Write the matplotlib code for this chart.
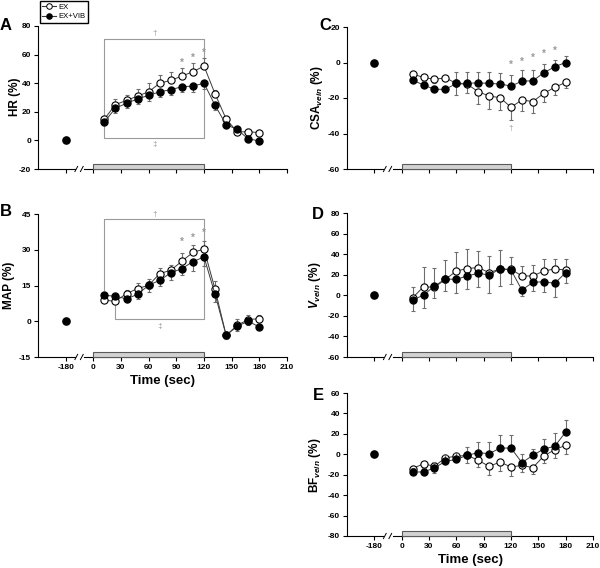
import matplotlib
matplotlib.use('Agg')
import matplotlib.pyplot as plt
from matplotlib.patches import Rectangle
from matplotlib.lines import Line2D

plt.rcParams['font.family'] = ['Liberation Sans', 'DejaVu Sans']
plt.rcParams['mathtext.fontset'] = 'custom'
plt.rcParams['mathtext.rm'] = 'Liberation Sans:bold'
plt.rcParams['mathtext.it'] = 'Liberation Sans:italic:bold'
plt.rcParams['mathtext.bf'] = 'Liberation Sans:bold'

# ---------------- data ----------------
time_sec = [12, 24, 36, 48, 60, 72, 84, 96, 108, 120, 132, 144, 156, 168, 180]
baseline_time = -180
baseline_value = 0
xtick_labels = ['-180', '0', '30', '60', '90', '120', '150', '180', '210']

hr_ex = [15, 25, 28, 31, 34, 40, 42, 45, 48, 52, 32.5, 15, 6, 6, 5.5]
hr_ex_se = [2, 4, 3.5, 5, 6, 6, 6, 5.5, 6, 5.5, 3, 2, 2, 2, 2]
hr_vib = [13, 22.5, 26, 29, 31.5, 34, 35.5, 37.5, 38, 40, 24.5, 11, 7.7, 1, -0.3]
hr_vib_se = [2, 3.5, 3, 3.5, 4, 4, 4, 4, 4, 4, 3, 2, 2, 2, 2]

map_ex = [8.8, 8.4, 11.6, 13.7, 15.1, 20, 21.4, 25.2, 28.9, 30.3, 13.4, -5.9, -1.7, 0.7, 1.1]
map_ex_se = [1, 1, 1.5, 2.5, 2.5, 2.5, 2.3, 3.6, 3.3, 3.5, 3.5, 1.5, 2.5, 2, 1.5]
map_vib = [10.9, 10.5, 9.4, 11.3, 15.1, 17.2, 20.3, 22.1, 25, 27, 11.3, -5.9, -2.1, 0, -2.4]
map_vib_se = [1, 1, 1.5, 2, 2.8, 2.2, 3, 2.8, 3.8, 4, 3.2, 1.5, 2, 1.5, 1]

csa_ex = [-6.5, -8.4, -9.5, -8.6, -11.8, -12.3, -16.4, -18.9, -19.8, -25.2, -21.1, -22, -17.4, -14, -11.2]
csa_ex_se = [2, 2, 2, 2, 6.5, 5, 7, 7.5, 7, 7, 6, 6.6, 4.6, 4.5, 3.4]
csa_vib = [-9.9, -12.7, -15.1, -15.1, -11.8, -11.8, -11.4, -11.8, -12.1, -13.3, -10.5, -10.3, -5.8, -2.4, 0]
csa_vib_se = [2, 2, 2, 2, 6.5, 6.2, 6.3, 6.3, 6, 6.2, 6.2, 5.8, 5.2, 3.6, 3.7]

v_ex = [-2.4, 8.3, 7.7, 15.5, 23.6, 26, 27, 22, 25.6, 25.3, 18.8, 18.8, 23.6, 25.6, 24.6]
v_ex_se = [10.7, 19.6, 18.6, 19, 18.3, 18.8, 16.5, 16, 18.6, 12.3, 9.7, 10.7, 11.4, 9.4, 10.4]
v_vib = [-4.7, 0.2, 9, 15.8, 15.5, 18.8, 21.4, 19.7, 25.6, 24.6, 5.1, 12.6, 13.2, 11.6, 22]
v_vib_se = [10.7, 13, 12, 11.7, 13, 13, 13, 17.8, 16.3, 13.6, 5.9, 8, 9.7, 13, 10.4]

bf_ex = [-14, -9.2, -11.8, -3.3, -2, -1, -5.9, -11.8, -7.6, -12.5, -10.8, -13.1, -1.7, 4.5, 8.8]
bf_ex_se = [4, 4, 7, 6, 6, 8, 7, 8, 9, 9, 7, 6.5, 7, 7.7, 8.8]
bf_vib = [-17.3, -17.3, -13.4, -6.9, -5, -1, 1.6, 0.6, 6.1, 6.1, -8.2, -1, 5.2, 7.8, 21.8]
bf_vib_se = [4, 4, 6, 6, 6, 8, 10, 11, 13, 13, 8.8, 6.5, 10, 13, 12]

# ---------------- helpers ----------------
BASE_POS = -30          # where the -180 s baseline sits on the broken axis
W, H = 600, 568
fig = plt.figure(figsize=(6.0, 5.68), dpi=100)

def add_axes_px(left, right, top, bottom):
    return fig.add_axes([left / W, 1 - bottom / H, (right - left) / W, (bottom - top) / H])

LINE_C = '#3a3a3a'
ERR_C = '#6e6e6e'
GRAY = '#9a9a9a'
MS = 5.2

def panel(ax, ylim, yticks, ex, ex_se, vib, vib_se, ex_up, show_x):
    n = len(time_sec)
    zeros = [0] * n
    ex_err = [zeros, ex_se] if ex_up else [ex_se, zeros]
    vib_err = [vib_se, zeros] if ex_up else [zeros, vib_se]
    ax.errorbar(time_sec, ex, yerr=ex_err, fmt='-o', color=LINE_C, lw=0.7,
                mfc='white', mec='black', ms=MS, mew=0.8, ecolor=ERR_C,
                elinewidth=0.8, capsize=1.5, capthick=0.8, zorder=3, clip_on=False)
    ax.errorbar(time_sec, vib, yerr=vib_err, fmt='-o', color=LINE_C, lw=0.7,
                mfc='black', mec='black', ms=MS, mew=0.8, ecolor=ERR_C,
                elinewidth=0.8, capsize=1.5, capthick=0.8, zorder=4, clip_on=False)
    ax.plot([BASE_POS], [baseline_value], 'o', mfc='black', mec='black', ms=MS, zorder=4)
    ax.set_xlim(-60, 210)
    ax.set_ylim(*ylim)
    ax.set_yticks(yticks)
    ax.set_yticklabels([str(v) for v in yticks], fontsize=6, fontweight='bold')
    ax.set_xticks([BASE_POS] + list(range(0, 211, 30)))
    if show_x:
        ax.set_xticklabels(xtick_labels, fontsize=6, fontweight='bold')
        ax.set_xlabel('Time (sec)', fontsize=9.5, fontweight='bold', labelpad=3)
    else:
        ax.set_xticklabels([])
    for s in ['top', 'right', 'bottom']:
        ax.spines[s].set_visible(False)
    ax.spines['left'].set_linewidth(0.8)
    ax.tick_params(direction='out', length=3, width=0.8, pad=2)
    tr = ax.get_xaxis_transform()
    # broken x-axis line
    ax.plot([-60, -20], [0, 0], color='black', lw=0.8, transform=tr, clip_on=False)
    ax.plot([-10, 210], [0, 0], color='black', lw=0.8, transform=tr, clip_on=False)
    for xb in (-18.5, -12.5):
        ax.plot([xb - 1.5, xb + 1.5], [-0.018, 0.018], color='black', lw=0.7,
                transform=tr, clip_on=False)
    # exercise period bar
    ax.add_patch(Rectangle((0, 0), 120, 0.034, transform=tr, fc='#d2d2d2',
                           ec='#5a5a5a', lw=0.8, clip_on=False, zorder=2))

def star(ax, x, y):
    ax.text(x, y, '*', color=GRAY, fontsize=7, ha='center', va='center', fontweight='bold')

def bracket(ax, x0, x1, y, y0, y1):
    ax.plot([x0, x0, x1, x1], [y0, y, y, y1], color=GRAY, lw=0.8, zorder=1)

# ---------------- panels ----------------
axA = add_axes_px(38, 287, 26, 169)
panel(axA, (-20, 80), list(range(-20, 81, 20)), hr_ex, hr_ex_se, hr_vib, hr_vib_se, True, False)
bracket(axA, 12, 120, 71, 18, 54)
axA.text(67, 75, '†', color=GRAY, fontsize=6, ha='center', va='center')
bracket(axA, 12, 120, 2, 10.8, 38.5)
axA.text(67, -3, '‡', color=GRAY, fontsize=6, ha='center', va='center')
for x, y in [(96, 54.5), (108, 58), (120, 61.5)]:
    star(axA, x, y)

axB = add_axes_px(38, 287, 214, 357)
panel(axB, (-15, 45), list(range(-15, 46, 15)), map_ex, map_ex_se, map_vib, map_vib_se, True, True)
bracket(axB, 12, 120, 42.8, 13, 32.3)
axB.text(67, 44.6, '†', color=GRAY, fontsize=6, ha='center', va='center')
bracket(axB, 24, 120, 1.1, 7.4, 23.5)
axB.text(72, -2.3, '‡', color=GRAY, fontsize=6, ha='center', va='center')
for x, y in [(96, 33.4), (108, 35.2), (120, 37)]:
    star(axB, x, y)

axC = add_axes_px(347, 593, 27, 169)
panel(axC, (-60, 20), list(range(-60, 21, 20)), csa_ex, csa_ex_se, csa_vib, csa_vib_se, False, False)
for x, y in [(120, -1.3), (132, 0.6), (144, 2.5), (156, 4.8), (168, 6.4)]:
    star(axC, x, y)
axC.text(120, -37, '†', color=GRAY, fontsize=6, ha='center', va='center')

axD = add_axes_px(347, 593, 213, 357)
panel(axD, (-60, 80), list(range(-60, 81, 20)), v_ex, v_ex_se, v_vib, v_vib_se, True, False)

axE = add_axes_px(347, 593, 393, 536)
panel(axE, (-80, 60), list(range(-80, 61, 20)), bf_ex, bf_ex_se, bf_vib, bf_vib_se, False, True)

# ---------------- labels ----------------
def ylab(x, y, s):
    fig.text(x / W, 1 - y / H, s, rotation=90, ha='center', va='center',
             fontsize=8.5, fontweight='bold')

ylab(15, 97, 'HR (%)')
ylab(9, 285, 'MAP (%)')
ylab(317, 98, r'CSA$_{vein}$ (%)')
ylab(315, 285, r'$V_{vein}$ (%)')
ylab(315, 465, r'BF$_{vein}$ (%)')

for lbl, x, y in [('A', 6, 26), ('B', 6, 211), ('C', 325, 26), ('D', 318, 214), ('E', 318, 396)]:
    fig.text(x / W, 1 - y / H, lbl, ha='center', va='center', fontsize=12, fontweight='bold')

handles = [Line2D([], [], color=LINE_C, lw=0.8, marker='o', mfc='white', mec='black', ms=4, mew=0.7),
           Line2D([], [], color=LINE_C, lw=0.8, marker='o', mfc='black', mec='black', ms=4, mew=0.7)]
fig.legend(handles, ['EX', 'EX+VIB'], loc='upper left', bbox_to_anchor=(40 / W, 1 - 1 / H),
           fontsize=5.5, frameon=True, fancybox=False, edgecolor='black', framealpha=1,
           handlelength=1.8, handletextpad=0.3, borderpad=0.3, labelspacing=0.3,
           borderaxespad=0)

fig.savefig('out.png', dpi=100)
